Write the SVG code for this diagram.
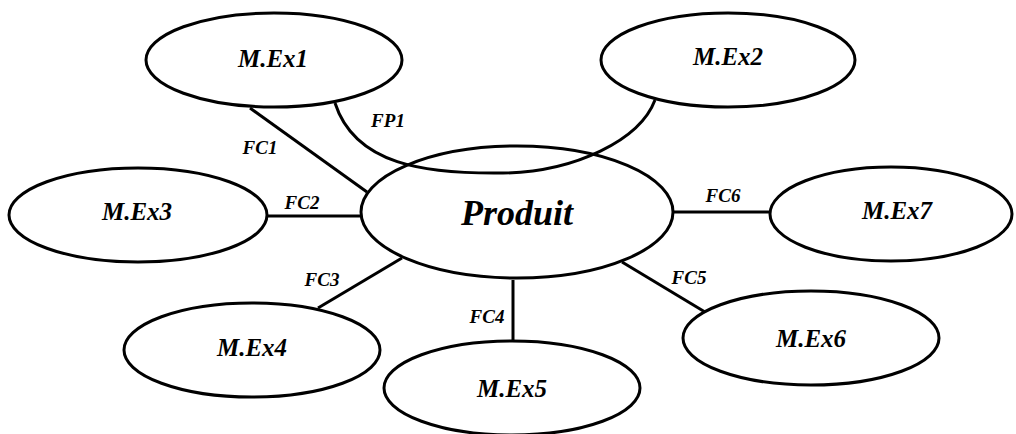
<svg xmlns="http://www.w3.org/2000/svg" width="1016" height="434" viewBox="0 0 1016 434">
<style>
.n{fill:#fff;stroke:#000;stroke-width:3}
.c{fill:none;stroke:#000;stroke-width:3}
.t{font-family:"Liberation Serif","DejaVu Serif",serif;font-weight:bold;font-style:italic;text-anchor:middle;fill:#000}
.m{font-size:25px}
.p{font-size:36px}
.l{font-size:19px}
</style>
<rect width="1016" height="434" fill="#fff"/>
<g id="nodes">
<g id="mex1"><ellipse class="n" cx="274" cy="60" rx="128" ry="47"/><text class="t m" x="273" y="67">M.Ex1</text></g>
<g id="mex2"><ellipse class="n" cx="728" cy="60" rx="127" ry="47"/><text class="t m" x="728" y="65">M.Ex2</text></g>
<g id="mex3"><ellipse class="n" cx="138" cy="215" rx="129" ry="47"/><text class="t m" x="137" y="220">M.Ex3</text></g>
<g id="produit"><ellipse class="n" cx="517" cy="212" rx="156" ry="66"/><text class="t p" x="517" y="225">Produit</text></g>
<g id="mex7"><ellipse class="n" cx="891" cy="214" rx="121" ry="47"/><text class="t m" x="897" y="219">M.Ex7</text></g>
<g id="mex4"><ellipse class="n" cx="252" cy="350" rx="128" ry="47"/><text class="t m" x="252" y="356">M.Ex4</text></g>
<g id="mex5"><ellipse class="n" cx="512" cy="388" rx="128" ry="47"/><text class="t m" x="512" y="397">M.Ex5</text></g>
<g id="mex6"><ellipse class="n" cx="811" cy="338" rx="128" ry="47"/><text class="t m" x="811" y="347">M.Ex6</text></g>
</g>
<g id="connectors">
<path class="c" d="M335,103 C355,165 425,174 503,173 C575,172 640,140 655,100"/>
<line class="c" x1="250" y1="108" x2="367" y2="192"/>
<line class="c" x1="267" y1="216" x2="361" y2="216"/>
<line class="c" x1="318" y1="308" x2="402" y2="258"/>
<line class="c" x1="513" y1="280" x2="513" y2="342"/>
<line class="c" x1="622" y1="262" x2="705" y2="312"/>
<line class="c" x1="672" y1="212" x2="771" y2="212"/>
<text class="t l" x="388" y="127">FP1</text>
<text class="t l" x="260" y="154">FC1</text>
<text class="t l" x="302" y="209">FC2</text>
<text class="t l" x="322" y="286">FC3</text>
<text class="t l" x="487" y="323">FC4</text>
<text class="t l" x="689" y="284">FC5</text>
<text class="t l" x="723" y="202">FC6</text>
</g>
</svg>
